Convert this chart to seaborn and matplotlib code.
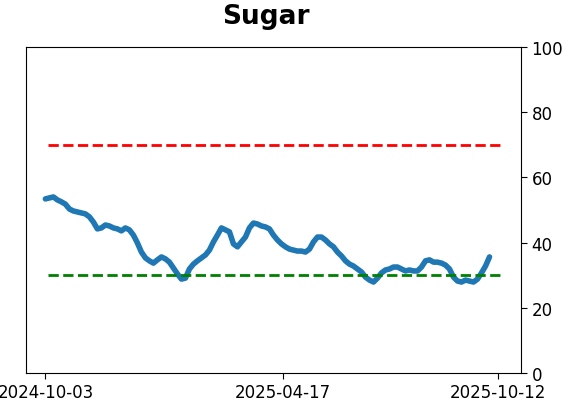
import matplotlib
matplotlib.use("Agg")
import matplotlib.pyplot as plt
import numpy as np
import pandas as pd
import seaborn as sns

sns.set_style("white")
plt.rcParams['font.family'] = ['DejaVu Sans']
plt.rcParams['text.color'] = 'black'
plt.rcParams['xtick.color'] = 'black'
plt.rcParams['ytick.color'] = 'black'
plt.rcParams['axes.labelcolor'] = 'black'

title = "Sugar"
start_date = "2024-10-03"
end_date = "2025-10-05"
tick_dates = ["2024-10-03", "2025-04-17", "2025-10-12"]
upper_level = 70
lower_level = 30

values = [
    53.4, 53.7, 54.0, 53.1, 52.5, 51.8, 50.3, 49.7, 49.4, 49.1, 48.8, 47.9,
    46.3, 44.2, 44.5, 45.4, 45.1, 44.5, 44.2, 43.6, 44.5, 43.9, 42.3, 39.9,
    37.1, 35.3, 34.4, 33.7, 34.7, 35.6, 35.0, 34.0, 32.2, 30.4, 28.8, 29.1,
    31.9, 33.4, 34.4, 35.3, 36.2, 37.7, 40.2, 42.3, 44.5, 43.9, 43.3, 39.6,
    38.7, 40.2, 41.7, 44.5, 46.0, 45.7, 45.1, 44.8, 44.2, 42.3, 40.8, 39.6,
    38.7, 38.0, 37.7, 37.4, 37.4, 37.1, 38.0, 40.2, 41.7, 41.7, 40.8, 39.6,
    38.7, 37.1, 35.9, 34.4, 33.4, 32.8, 31.9, 31.0, 29.4, 28.5, 27.9, 29.1,
    30.7, 31.6, 31.9, 32.5, 32.5, 31.9, 31.3, 31.6, 31.3, 31.3, 32.5, 34.4,
    34.7, 34.0, 34.0, 33.7, 33.1, 31.9, 29.4, 28.2, 27.9, 28.5, 28.2, 27.9,
    28.8, 30.7, 32.8, 35.6,
]

dates = pd.date_range(start_date, end_date, periods=len(values))
df = pd.DataFrame({"date": dates, "value": values})

fig = plt.figure(figsize=(5.62, 4.02), dpi=100)
ax = fig.add_axes([0.0463, 0.0697, 0.8807, 0.8109])

sns.lineplot(data=df, x="date", y="value", ax=ax, color="#1f77b4", linewidth=4)

# dashed reference levels
line_start = pd.Timestamp("2024-10-05")
line_end = pd.Timestamp("2025-10-14")
ax.hlines(upper_level, line_start, line_end, colors="red", linestyles="--", linewidth=2)
ax.hlines(lower_level, line_start, line_end, colors="green", linestyles="--", linewidth=2)

ax.set_xlim(pd.Timestamp("2024-09-17"), pd.Timestamp("2025-10-31"))
ax.set_ylim(0, 100)
ax.yaxis.tick_right()
ax.set_yticks([0, 20, 40, 60, 80, 100])
ax.set_xticks(pd.to_datetime(tick_dates))
ax.set_xticklabels(tick_dates)
ax.tick_params(axis="both", labelsize=12, length=4, direction="out")
ax.tick_params(axis="y", right=True, left=False)
ax.tick_params(axis="x", bottom=True)
ax.set_xlabel("")
ax.set_ylabel("")
for s in ax.spines.values():
    s.set_color("black")
    s.set_linewidth(0.8)

ax.set_title(title, fontsize=19, fontweight="bold", pad=17, x=0.485)

fig.savefig("out.png", dpi=100)
